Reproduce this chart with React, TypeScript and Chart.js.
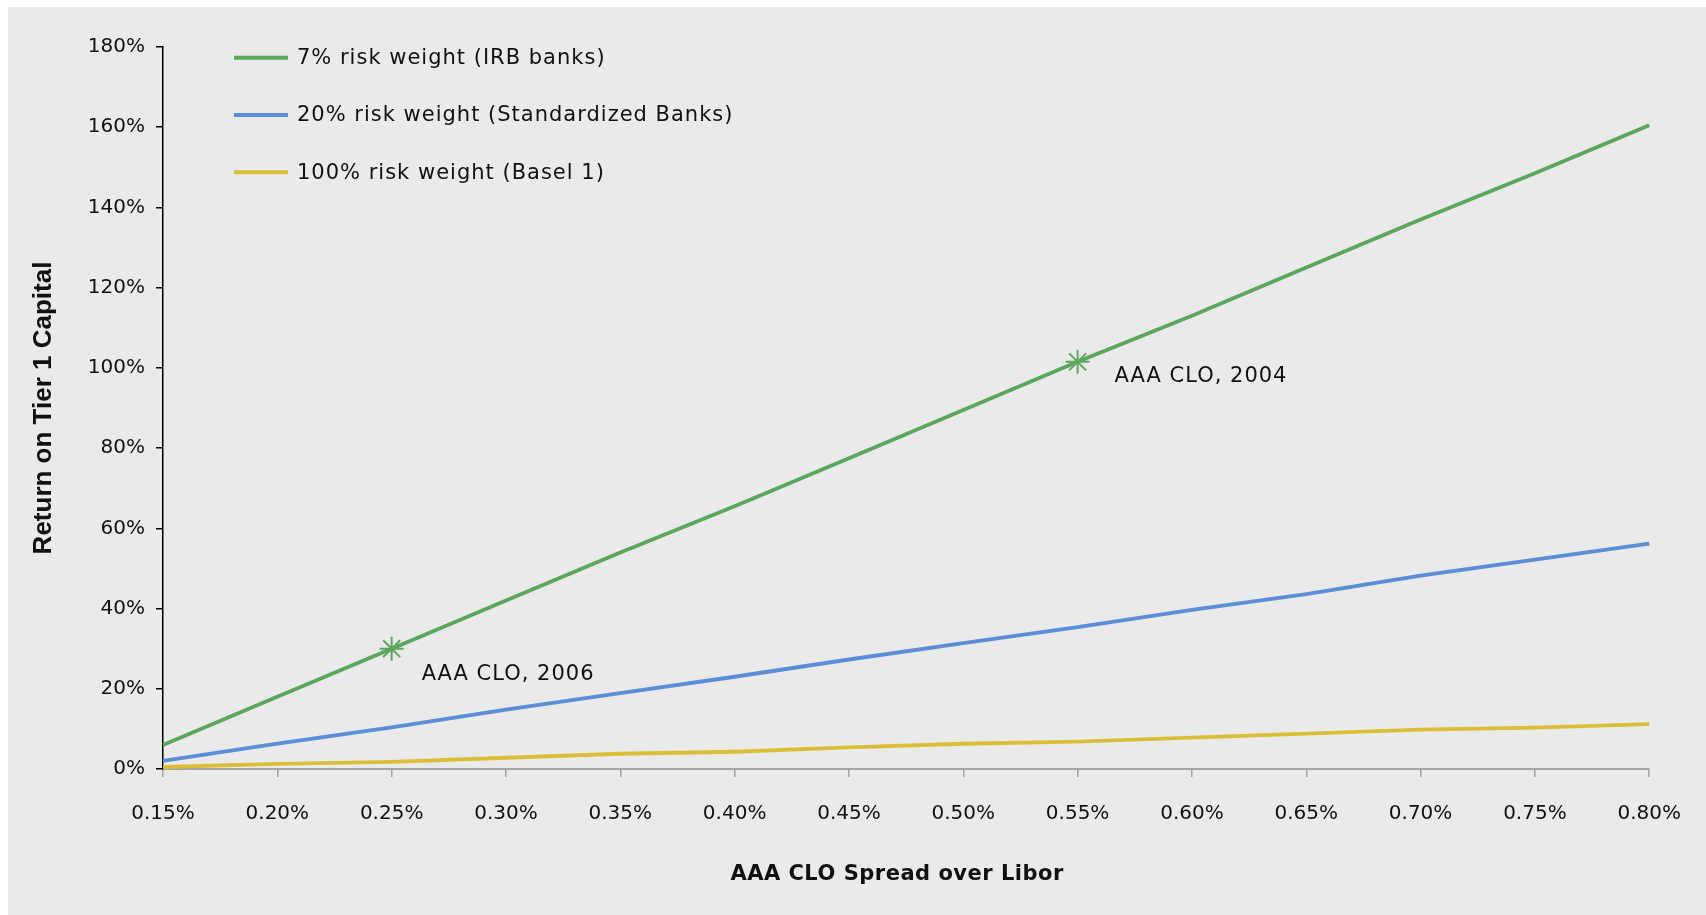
import { useEffect, useRef } from 'react';
import { Chart, registerables } from 'chart.js';

Chart.register(...registerables);

const spreads = ['0.15%', '0.20%', '0.25%', '0.30%', '0.35%', '0.40%', '0.45%', '0.50%', '0.55%', '0.60%', '0.65%', '0.70%', '0.75%', '0.80%'];
const irbBanks = [6, 18, 30, 42, 54, 65.5, 77.5, 89.5, 101.5, 113, 125, 137, 148.5, 160.5];
const standardizedBanks = [2, 6.3, 10.4, 14.8, 18.9, 23, 27.3, 31.4, 35.4, 39.7, 43.6, 48.2, 52.2, 56.2];
const basel1 = [0.5, 1.3, 1.8, 2.8, 3.8, 4.3, 5.4, 6.3, 6.8, 7.8, 8.8, 9.8, 10.3, 11.2];
const seriesLabels = ['7% risk weight (IRB banks)', '20% risk weight (Standardized Banks)', '100% risk weight (Basel 1)'];
const seriesColors = ['#5CA75E', '#5B8ED6', '#DCBE36'];
const annotationLabels = ['AAA CLO, 2006', 'AAA CLO, 2004'];
const annotationIndex = [2, 8];
const annotationOffsets = [[30, 26], [37, 15]];
const xTitle = 'AAA CLO Spread over Libor';
const yTitle = 'Return on Tier 1 Capital';

const overlay = {
  id: 'overlay',
  afterDatasetsDraw(chart: any) {
    const ctx = chart.ctx as CanvasRenderingContext2D;
    const xs = chart.scales.x;
    const ys = chart.scales.y;
    const area = chart.chartArea;
    ctx.save();
    (ctx as any).letterSpacing = '1px';
    ctx.font = '21px "DejaVu Sans"';
    ctx.fillStyle = '#111';
    ctx.textBaseline = 'middle';
    ctx.textAlign = 'left';
    annotationLabels.forEach((label, i) => {
      const idx = annotationIndex[i];
      const px = xs.getPixelForValue(idx);
      const py = ys.getPixelForValue(irbBanks[idx]);
      ctx.fillText(label, px + annotationOffsets[i][0], py + annotationOffsets[i][1]);
    });
    seriesLabels.forEach((label, i) => {
      const rowY = area.top + 10.7 + i * 57.3;
      ctx.strokeStyle = seriesColors[i];
      ctx.lineWidth = 4;
      ctx.beginPath();
      ctx.moveTo(area.left + 71, rowY);
      ctx.lineTo(area.left + 125, rowY);
      ctx.stroke();
      ctx.fillText(label, area.left + 134, rowY + 1);
    });
    (ctx as any).letterSpacing = '0.5px';
    ctx.font = 'bold 21px "DejaVu Sans"';
    ctx.textAlign = 'center';
    ctx.fillText(xTitle, (area.left + area.right) / 2 - 9, area.bottom + 106);
    ctx.restore();
  },
};

export default function App() {
  const canvasRef = useRef<HTMLCanvasElement | null>(null);

  useEffect(() => {
    if (!canvasRef.current) return;
    const mk = (data: number[], i: number, markers: boolean) => ({
      label: seriesLabels[i],
      data,
      borderColor: seriesColors[i],
      backgroundColor: seriesColors[i],
      borderWidth: 3.8,
      tension: 0,
      pointStyle: 'star' as const,
      pointRadius: (c: any) => (markers && annotationIndex.includes(c.dataIndex) ? 12 : 0),
      pointHoverRadius: 0,
      pointBorderColor: seriesColors[i],
      pointBorderWidth: 2,
    });
    const chart = new Chart(canvasRef.current, {
      type: 'line',
      data: {
        labels: spreads,
        datasets: [mk(basel1, 2, false), mk(standardizedBanks, 1, false), mk(irbBanks, 0, true)],
      },
      plugins: [overlay],
      options: {
        responsive: true,
        maintainAspectRatio: false,
        animation: false,
        layout: { padding: { top: 40, right: 56, left: 0, bottom: 0 } },
        plugins: {
          legend: { display: false },
          tooltip: { enabled: false },
        },
        scales: {
          x: {
            type: 'category',
            offset: false,
            afterFit: (s: any) => {
              s.height = 146;
            },
            grid: {
              display: true,
              drawOnChartArea: false,
              drawTicks: true,
              tickLength: 8,
              color: '#A3A3A3',
              lineWidth: 1.5,
            },
            border: { display: true, color: '#A3A3A3', width: 2 },
            ticks: {
              color: '#111',
              font: { family: '"DejaVu Sans"', size: 20 },
              padding: 25,
              maxRotation: 0,
              autoSkip: false,
            },
            title: { display: false },
          },
          y: {
            min: 0,
            max: 180,
            afterFit: (s: any) => {
              s.width = 155;
            },
            grid: {
              display: true,
              drawOnChartArea: false,
              drawTicks: true,
              tickLength: 7,
              color: '#000',
              lineWidth: 1.5,
            },
            border: { display: true, color: '#000', width: 1.5 },
            ticks: {
              stepSize: 20,
              color: '#111',
              font: { family: '"DejaVu Sans"', size: 20 },
              padding: 11,
              callback: (v: any) => `${v}%`,
            },
            title: {
              display: true,
              text: yTitle,
              color: '#111',
              font: { family: '"Liberation Sans"', size: 26, weight: 'bold' },
              padding: { top: 20, bottom: 0 },
            },
          },
        },
      },
    });
    return () => chart.destroy();
  }, []);

  return (
    <div
      style={{
        position: 'absolute',
        left: 8,
        top: 7,
        width: 1698,
        height: 908,
        background: '#EAEAEA',
      }}
    >
      <canvas ref={canvasRef} style={{ width: '100%', height: '100%' }} />
    </div>
  );
}
